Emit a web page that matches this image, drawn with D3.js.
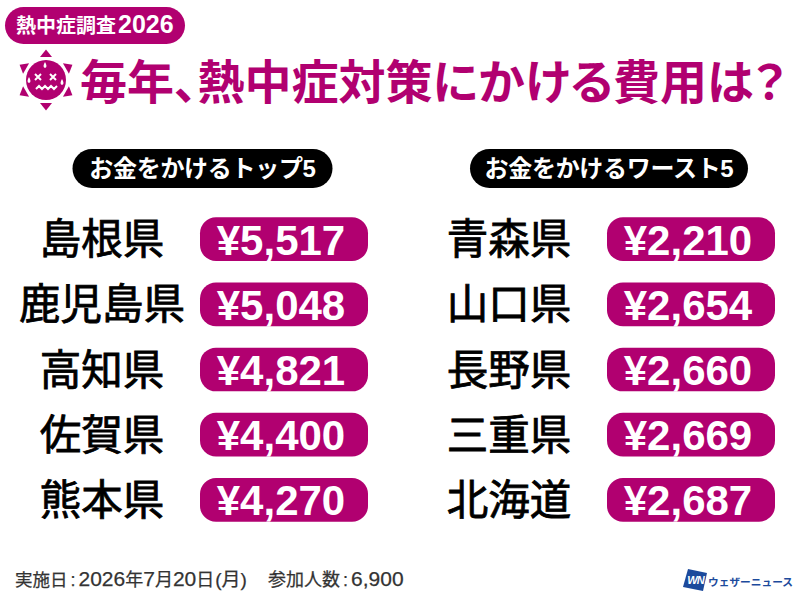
<!DOCTYPE html>
<html lang="ja">
<head>
<meta charset="utf-8">
<script src="https://cdnjs.cloudflare.com/ajax/libs/d3/7.8.5/d3.min.js"></script>
<style>
html, body { margin: 0; padding: 0; background: #fff; }
svg { display: block; }
text { font-family: "Noto Sans CJK JP", sans-serif; }
</style>
</head>
<body>
<div id="chart"></div>
<script>
const topPrefs = ["島根県", "鹿児島県", "高知県", "佐賀県", "熊本県"];
const topCosts = [5517, 5048, 4821, 4400, 4270];
const worstPrefs = ["青森県", "山口県", "長野県", "三重県", "北海道"];
const worstCosts = [2210, 2654, 2660, 2669, 2687];

const MAGENTA = "#b10070";
const BLUE = "#1c4a9c";
const width = 800, height = 600;
const yen = d3.format(",");
const LATIN = '"Liberation Sans", "Noto Sans CJK JP", sans-serif';

const svg = d3.select("#chart").append("svg")
    .attr("width", width)
    .attr("height", height)
    .attr("viewBox", [0, 0, width, height]);

// rows share one band scale, spacing is about 65px in the picture
const y = d3.scaleBand()
    .domain(d3.range(5))
    .range([206.5, 532.5])
    .paddingInner(0.33)
    .paddingOuter(0.165);

function pill(x, top, w, h, fill, r) {
    svg.append("rect")
        .attr("x", x).attr("y", top)
        .attr("width", w).attr("height", h)
        .attr("rx", r === undefined ? h / 2 : r)
        .attr("fill", fill);
}

function label(x, yy, txt, size, fill, anchor, opts) {
    opts = opts || {};
    return svg.append("text")
        .attr("x", x).attr("y", yy)
        .attr("text-anchor", anchor || "middle")
        .attr("dominant-baseline", "central")
        .attr("font-size", size)
        .attr("font-weight", opts.weight || 700)
        .attr("letter-spacing", opts.spacing || null)
        .style("font-family", opts.family || null)
        .style("font-feature-settings", opts.palt ? '"palt"' : null)
        .attr("fill", fill)
        .text(txt);
}

// kanji at one size and digits at a bigger one: [text, size, latin font?, dx]
function mixed(x, yy, parts, fill, weight) {
    const t = svg.append("text")
        .attr("x", x).attr("y", yy)
        .attr("font-weight", weight)
        .attr("fill", fill);
    parts.forEach(p => {
        t.append("tspan")
            .attr("font-size", p[1])
            .attr("dx", p[3] || null)
            .style("font-family", p[2] ? LATIN : null)
            .text(p[0]);
    });
    return t;
}

function drawColumn(prefs, costs, nameX, pillX, headX, headW, headText) {
    pill(headX, 149, headW, 39, "#000");
    label(headX + headW / 2, 168, headText, 24, "#fff", "middle", { family: LATIN, spacing: "-0.3px" });

    const rows = svg.append("g").selectAll("g")
        .data(prefs.map((p, i) => ({ pref: p, cost: costs[i], i })))
        .join("g")
        .attr("transform", d => `translate(0,${y(d.i)})`);

    rows.append("rect")
        .attr("x", pillX)
        .attr("width", 168)
        .attr("height", y.bandwidth())
        .attr("rx", 16)
        .attr("fill", MAGENTA);

    rows.append("text")
        .attr("x", pillX + 81)
        .attr("y", y.bandwidth() / 2 + 1)
        .attr("text-anchor", "middle")
        .attr("dominant-baseline", "central")
        .attr("font-size", 42)
        .attr("font-weight", 700)
        .style("font-family", LATIN)
        .attr("fill", "#fff")
        .text(d => "¥" + yen(d.cost));

    rows.append("text")
        .attr("x", nameX)
        .attr("y", y.bandwidth() / 2 - 3)
        .attr("text-anchor", "middle")
        .attr("dominant-baseline", "central")
        .attr("font-size", 41.5)
        .attr("font-weight", 400)
        .attr("stroke", "#000")
        .attr("stroke-width", 0.8)
        .attr("fill", "#000")
        .text(d => d.pref);
}

// top tag and title
pill(5, 7, 180, 37, MAGENTA);
mixed(16, 33, [["熱中症調査", 20, false], ["2026", 25, true, 2]], "#fff", 700);
label(80, 78.5, "毎年、熱中症対策にかける費用は？", 47, MAGENTA, "start", { palt: true });

// sun face icon
const icon = svg.append("g").attr("transform", "translate(46,80)").attr("fill", MAGENTA);
icon.append("circle").attr("r", 20);
icon.selectAll("path.ray")
    .data(d3.range(6))
    .join("path")
    .attr("class", "ray")
    .attr("d", "M-6,-23L0,-30.5L6,-23Z")
    .attr("transform", d => `rotate(${d * 60})`);
const face = icon.append("g").attr("fill", "none").attr("stroke", "#fff").attr("stroke-width", 2);
face.append("path").attr("d", "M-11,-6L-5,0M-5,-6L-11,0");
face.append("path").attr("d", "M4,-6L10,0M10,-6L4,0");
face.append("path").attr("d", "M-10,9L-7,6L-4,9L-1,6L2,9L5,6L8,9L11,6");
const drops = icon.append("g").attr("fill", "#fff");
drops.append("path").attr("d", "M-1,-18Q-4,-13 -1,-12Q2,-13 -1,-18Z");
drops.append("path").attr("d", "M-17,-3Q-20,2 -17,3Q-14,2 -17,-3Z");
drops.append("path").attr("d", "M16,-1Q13,4 16,5Q19,4 16,-1Z");

drawColumn(topPrefs, topCosts, 102, 200, 72.5, 260, "お金をかけるトップ5");
drawColumn(worstPrefs, worstCosts, 509, 607, 470, 278, "お金をかけるワースト5");

// footer
mixed(15, 586, [["実施日", 17.5, false], [":", 18, true, 3], ["2026", 21, true, 3], ["年", 18, false], ["7", 21, true], ["月", 18, false], ["20", 21, true], ["日", 18, false], ["(月)", 19, true, 1]], "#333", 400)
    .attr("stroke", "#333").attr("stroke-width", 0.25);
mixed(268, 586, [["参加人数", 18, false], [":", 18, true, 3], ["6,900", 21, true, 3]], "#333", 400)
    .attr("stroke", "#333").attr("stroke-width", 0.25);

// logo
svg.append("path").attr("d", "M688,569L707,573L703,591L683,587Z").attr("fill", BLUE);
label(695.5, 580, "WN", 11, "#fff", "middle", { family: LATIN, spacing: "-1px" })
    .attr("font-style", "italic");
label(708, 581, "ウェザーニュース", 10.7, BLUE, "start", { weight: 700 });
</script>
</body>
</html>
